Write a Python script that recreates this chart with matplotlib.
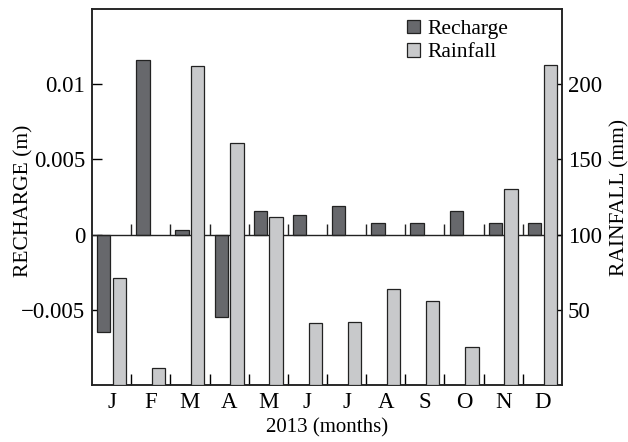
import matplotlib
matplotlib.use("Agg")
import matplotlib.pyplot as plt
import numpy as np
from matplotlib import ticker

plt.rcParams['font.family'] = ['Liberation Serif', 'DejaVu Serif']

months = ['J', 'F', 'M', 'A', 'M', 'J', 'J', 'A', 'S', 'O', 'N', 'D']
recharge = [-0.0065, 0.0116, 0.0003, -0.0055, 0.0016, 0.0013,
            0.0019, 0.0008, 0.0008, 0.0016, 0.0008, 0.0008]
rainfall = [71, 11, 212, 161, 112, 41, 42, 64, 56, 25, 130, 213]

dark = '#67686c'
light = '#c8c9cb'

fig = plt.figure(figsize=(6.28, 4.42), dpi=100)
ax = fig.add_axes([0.1465, 0.129, 0.7484, 0.8507])
ax2 = ax.twinx()

x = np.arange(len(months))
w = 0.34
b1 = ax.bar(x - 0.2, recharge, w, color=dark, edgecolor='#222222', linewidth=0.9, zorder=3)
b2 = ax2.bar(x + 0.2, rainfall, w, color=light, edgecolor='#222222', linewidth=0.9, zorder=3)

ax.set_xlim(-0.5, len(months) - 0.5)
ax.set_ylim(-0.01, 0.015)
ax2.set_ylim(0, 250)

# zero line with little ticks between months
ax.axhline(0, color='#222222', lw=1.0, zorder=4)
bounds = x[:-1] + 0.5
ax.vlines(bounds, 0, 0.00072, color='#222222', lw=1.0, zorder=4)

ax.set_xticks(x)
ax.set_xticklabels(months)
ax.set_xticks(bounds, minor=True)
ax.tick_params(axis='x', which='major', length=0, labelsize=16.5, pad=5)
ax.tick_params(axis='x', which='minor', direction='in', length=8, width=1.0)

ax.set_yticks([-0.005, 0, 0.005, 0.01])
ax.yaxis.set_major_formatter(ticker.FuncFormatter(lambda v, p: f"{v:g}".replace('-', '\u2212')))
ax.tick_params(axis='y', direction='in', length=7, width=1.0, labelsize=16.5, pad=5)

ax2.set_yticks([50, 100, 150, 200])
ax2.tick_params(axis='y', direction='in', length=5, width=1.0, labelsize=16.5, pad=4)

for a in (ax, ax2):
    for s in a.spines.values():
        s.set_linewidth(1.1)
        s.set_color('#222222')

ax.set_ylabel('RECHARGE (m)', fontsize=15.5)
ax.yaxis.set_label_coords(-0.124, 0.49)
ax2.set_ylabel('RAINFALL (mm)', fontsize=15.5)
ax2.yaxis.set_label_coords(1.102, 0.5)
ax.set_xlabel('2013 (months)', fontsize=15, labelpad=4)

ax2.legend([b1, b2], ['Recharge', 'Rainfall'], loc='upper left',
           bbox_to_anchor=(0.647, 1.0), frameon=False, fontsize=15.5,
           handlelength=0.6, handleheight=0.6, handletextpad=0.35,
           labelspacing=0.18, borderaxespad=0.3, borderpad=0.2)

fig.savefig('out.png', dpi=100)
